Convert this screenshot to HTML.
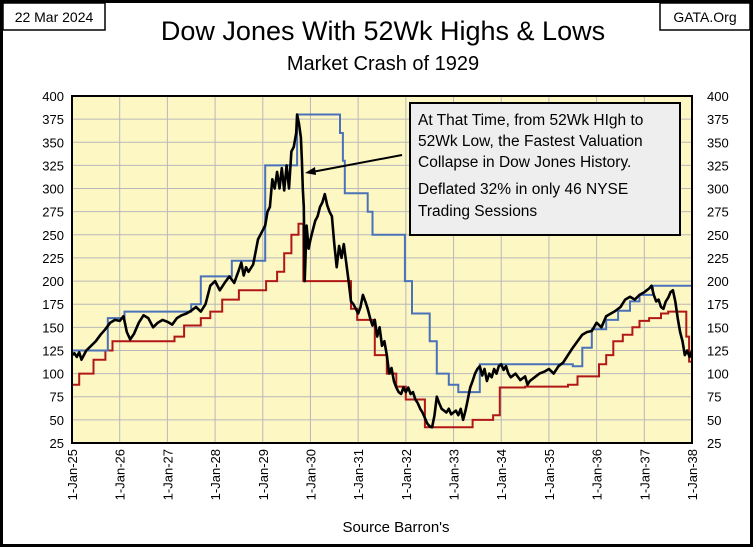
<!DOCTYPE html>
<html><head><meta charset="utf-8"><style>
body{margin:0;width:753px;height:547px;overflow:hidden;background:#fff;font-family:"Liberation Sans",sans-serif}
</style></head><body>
<svg id="c" width="753" height="547" viewBox="0 0 753 547" xmlns="http://www.w3.org/2000/svg">
<rect x="1.5" y="1.5" width="750" height="544" fill="#fff" stroke="#000" stroke-width="3"/>
<rect x="3" y="3" width="102" height="27" fill="#fff" stroke="#000" stroke-width="1.5"/>
<text x="54" y="22" font-size="14" text-anchor="middle">22 Mar 2024</text>
<rect x="660" y="3" width="90" height="27" fill="#fff" stroke="#000" stroke-width="1.5"/>
<text x="705" y="22" font-size="14" text-anchor="middle">GATA.Org</text>
<text x="383" y="40" font-size="27" text-anchor="middle">Dow Jones With 52Wk Highs &amp; Lows</text>
<text x="383" y="70" font-size="20" text-anchor="middle">Market Crash of 1929</text>
<rect x="72" y="96" width="620" height="347" fill="#fdf7c4"/>
<g id="grid"></g><g id="ylab"></g><g id="xlab"></g><g id="series"></g>
<rect x="72" y="96" width="620" height="347" fill="none" stroke="#000" stroke-width="2"/>
<rect x="410" y="103" width="270" height="132" fill="#eeeeee" stroke="#000" stroke-width="2"/>
<g font-size="15.5">
<text x="418" y="125">At That Time, from 52Wk HIgh to</text>
<text x="418" y="146">52Wk Low, the Fastest Valuation</text>
<text x="418" y="167">Collapse in Dow Jones History.</text>
<text x="418" y="194">Deflated 32% in only 46 NYSE</text>
<text x="418" y="216">Trading Sessions</text>
</g>
<line x1="402" y1="155" x2="312" y2="172" stroke="#000" stroke-width="2"/>
<polygon points="305,173 315,167 316,175" fill="#000"/>
<text x="396" y="532" font-size="15" text-anchor="middle">Source Barron's</text>
</svg>
<script>
const yTicks=[25,50,75,100,125,150,175,200,225,250,275,300,325,350,375,400];
const xYears=[25,26,27,28,29,30,31,32,33,34,35,36,37,38];
const dowT=[
1925,1925.05,1925.1,1925.15,1925.2,1925.3,1925.4,1925.5,1925.6,1925.7,
1925.8,1925.9,1926,1926.08,1926.15,1926.22,1926.3,1926.4,1926.5,1926.6,
1926.7,1926.8,1926.9,1927,1927.1,1927.2,1927.3,1927.4,1927.5,1927.6,
1927.7,1927.8,1927.9,1928,1928.1,1928.2,1928.3,1928.4,1928.5,1928.55,
1928.6,1928.65,1928.7,1928.8,1928.9,1929,1929.05,1929.1,1929.15,1929.2,
1929.25,1929.3,1929.35,1929.4,1929.45,1929.5,1929.55,1929.6,1929.65,1929.7,
1929.72,1929.76,1929.8,1929.82,1929.84,1929.86,1929.88,1929.92,1929.96,1930,
1930.05,1930.1,1930.15,1930.2,1930.25,1930.3,1930.35,1930.4,1930.45,1930.5,
1930.55,1930.6,1930.65,1930.7,1930.75,1930.8,1930.85,1930.9,1930.95,1931,
1931.05,1931.1,1931.15,1931.2,1931.25,1931.3,1931.35,1931.4,1931.45,1931.5,
1931.55,1931.6,1931.65,1931.7,1931.75,1931.8,1931.85,1931.9,1931.95,1932,
1932.05,1932.1,1932.15,1932.2,1932.25,1932.3,1932.35,1932.4,1932.45,1932.5,
1932.55,1932.6,1932.65,1932.7,1932.75,1932.8,1932.85,1932.9,1932.95,1933,
1933.05,1933.1,1933.15,1933.2,1933.25,1933.3,1933.35,1933.4,1933.45,1933.5,
1933.55,1933.6,1933.65,1933.7,1933.75,1933.8,1933.85,1933.9,1933.95,1934,
1934.05,1934.1,1934.15,1934.2,1934.3,1934.4,1934.5,1934.55,1934.6,1934.7,
1934.8,1934.9,1935,1935.1,1935.2,1935.3,1935.4,1935.5,1935.6,1935.7,
1935.8,1935.9,1936,1936.1,1936.2,1936.3,1936.4,1936.5,1936.6,1936.7,
1936.8,1936.9,1937,1937.05,1937.1,1937.15,1937.2,1937.25,1937.3,1937.35,
1937.4,1937.45,1937.5,1937.55,1937.6,1937.65,1937.7,1937.75,1937.8,1937.85,1937.9,1937.95,1938];
const dowV=[
120,122,118,123,115,125,130,135,142,148,
155,158,157,162,145,137,143,155,163,160,
150,155,158,156,153,160,163,165,168,172,
167,175,195,200,190,198,205,198,212,220,
206,215,210,218,245,255,260,275,280,310,
300,318,300,322,298,325,300,340,345,360,
380,370,355,330,300,280,200,260,235,245,
255,265,270,280,285,294,282,275,270,240,
215,238,225,240,220,200,178,175,170,165,
172,185,178,170,160,152,158,140,150,130,
135,120,100,106,92,85,80,78,85,80,
85,78,80,72,68,62,58,52,46,43,
42,55,75,68,62,60,58,62,56,58,
60,55,62,50,60,72,85,92,100,105,
108,98,105,92,100,96,105,100,108,110,
104,108,100,96,100,93,97,88,92,96,
100,102,105,100,108,112,120,128,135,142,
145,146,155,150,162,165,168,172,180,183,
180,185,188,190,192,195,185,178,180,172,
170,178,182,188,190,178,160,145,135,120,125,118,125];
const hiT=[1925,1925.75,1926.1,1927.5,1927.7,1928.35,1928.65,1929.05,1929.45,1929.72,1930.55,1930.62,1930.68,1930.72,1931.1,1931.2,1931.3,1931.56,1931.98,1932.13,1932.5,1932.65,1932.9,1933.1,1933.4,1933.55,1934.95,1935.5,1935.7,1935.9,1936.2,1936.45,1936.7,1936.9,1937.18,1938];
const hiV=[125,160,167,175,205,222,222,325,325,380,380,360,330,295,295,275,250,250,200,165,135,100,88,80,80,110,110,108,128,148,158,168,178,185,195,195];
const loT=[1925,1925.15,1925.45,1925.7,1925.85,1927.15,1927.35,1927.7,1927.9,1928.15,1928.5,1929.07,1929.3,1929.45,1929.6,1929.75,1929.85,1930.77,1930.85,1930.98,1931.35,1931.6,1931.8,1932,1932.4,1933.4,1933.83,1933.97,1934.5,1935.4,1935.6,1936.05,1936.2,1936.35,1936.55,1936.75,1936.9,1937.1,1937.35,1937.5,1937.88,1937.94];
const loV=[88,100,115,125,135,140,152,160,167,180,190,200,210,230,250,262,200,200,170,158,120,100,86,72,42,50,55,85,86,88,97,110,120,135,142,150,157,160,165,167,140,113];
const NS="http://www.w3.org/2000/svg";
const X0=72,X1=692,Y0=443,Y1=96;
function xs(t){return X0+(t-1925)/13*(X1-X0);}
function ys(v){return Y0-(v-25)/375*(Y0-Y1);}
function mk(tag,attrs,parent){const e=document.createElementNS(NS,tag);for(const k in attrs)e.setAttribute(k,attrs[k]);parent.appendChild(e);return e;}
const grid=document.getElementById('grid'),yl=document.getElementById('ylab'),xl=document.getElementById('xlab'),ser=document.getElementById('series');
yTicks.forEach(v=>{
  const l=mk('line',{x1:X0,x2:X1,y1:ys(v),y2:ys(v),stroke:'#b8b8b8','stroke-width':1},grid);
  
  
  const a=mk('text',{x:X0-8,y:ys(v)+5,'font-size':13,'text-anchor':'end'},yl);a.textContent=v;
  
  
  const b=mk('text',{x:X1+15,y:ys(v)+5,'font-size':13,'text-anchor':'start'},yl);b.textContent=v;
  
  
});
xYears.forEach(yr=>{
  const x=xs(1900+yr);
  const l=mk('line',{x1:x,x2:x,y1:Y1,y2:Y0,stroke:'#b8b8b8','stroke-width':1},grid);
  
  
  const t=mk('text',{x:0,y:0,'font-size':13,'text-anchor':'end',transform:`translate(${x+5},${Y0+6}) rotate(-90)`},xl);
  t.textContent='1-Jan-'+yr;
  
  
});
function step(T,V){let d='';for(let i=0;i<T.length;i++){const x=xs(T[i]).toFixed(1),y=ys(V[i]).toFixed(1);if(i==0)d+=`M${x},${y}`;else d+=`H${x}V${y}`;}return d+`H${X1}`;}
const lo=mk('path',{d:step(loT,loV),fill:'none',stroke:'#b01818','stroke-width':2},ser);


const hi=mk('path',{d:step(hiT,hiV),fill:'none',stroke:'#4a72b8','stroke-width':2},ser);


const n=Math.min(dowT.length,dowV.length);
let dd='';for(let i=0;i<n;i++){dd+=(i?'L':'M')+xs(dowT[i]).toFixed(1)+','+ys(dowV[i]).toFixed(1);}
const dw=mk('path',{d:dd,fill:'none',stroke:'#000','stroke-width':2.6,'stroke-linejoin':'round'},ser);


</script>
</body></html>
